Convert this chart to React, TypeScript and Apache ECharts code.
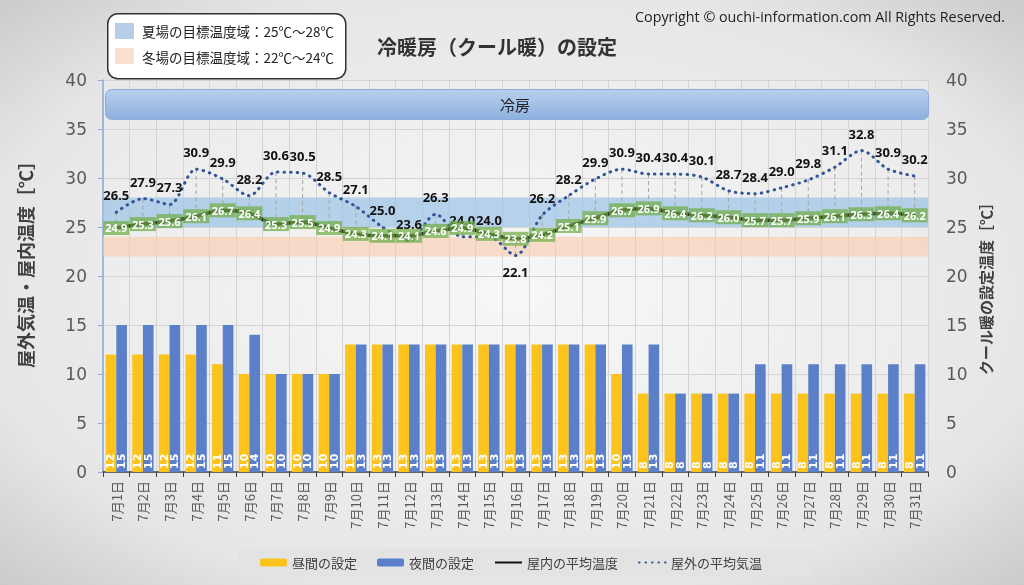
import React, { useEffect, useRef } from "react";
import * as echarts from "echarts";

const categories = [
  "7月1日", "7月2日", "7月3日", "7月4日", "7月5日", "7月6日", "7月7日", "7月8日",
  "7月9日", "7月10日", "7月11日", "7月12日", "7月13日", "7月14日", "7月15日", "7月16日",
  "7月17日", "7月18日", "7月19日", "7月20日", "7月21日", "7月22日", "7月23日", "7月24日",
  "7月25日", "7月26日", "7月27日", "7月28日", "7月29日", "7月30日", "7月31日",
];
const daySetting = [12, 12, 12, 12, 11, 10, 10, 10, 10, 13, 13, 13, 13, 13, 13, 13, 13, 13, 13, 10, 8, 8, 8, 8, 8, 8, 8, 8, 8, 8, 8];
const nightSetting = [15, 15, 15, 15, 15, 14, 10, 10, 10, 13, 13, 13, 13, 13, 13, 13, 13, 13, 13, 13, 13, 8, 8, 8, 11, 11, 11, 11, 11, 11, 11];
const indoorTemp = [24.9, 25.3, 25.6, 26.1, 26.7, 26.4, 25.3, 25.5, 24.9, 24.3, 24.1, 24.1, 24.6, 24.9, 24.3, 23.8, 24.2, 25.1, 25.9, 26.7, 26.9, 26.4, 26.2, 26.0, 25.7, 25.7, 25.9, 26.1, 26.3, 26.4, 26.2];
const outdoorTemp = [26.5, 27.9, 27.3, 30.9, 29.9, 28.2, 30.6, 30.5, 28.5, 27.1, 25.0, 23.6, 26.3, 24.0, 24.0, 22.1, 26.2, 28.2, 29.9, 30.9, 30.4, 30.4, 30.1, 28.7, 28.4, 29.0, 29.8, 31.1, 32.8, 30.9, 30.2];
const summerRange = [25, 28];
const winterRange = [22, 24];
const seriesNames = ["昼間の設定", "夜間の設定", "屋内の平均温度", "屋外の平均気温"];
const bandTexts = ["夏場の目標温度域：25℃～28℃", "冬場の目標温度域：22℃～24℃"];
const titleText = "冷暖房（クール暖）の設定";
const copyrightText = "Copyright © ouchi-information.com All Rights Reserved.";
const modeText = "冷房";
const leftAxisTitle = "屋外気温・屋内温度［℃］";
const rightAxisTitle = "クール暖の設定温度［℃］";

const JP = "'Noto Sans CJK JP', sans-serif";
const NUM = "'DejaVu Sans', 'Noto Sans CJK JP', sans-serif";
const LBL = "'Noto Sans', 'Noto Sans CJK JP', sans-serif";

export default function App() {
  const ref = useRef<HTMLDivElement>(null);
  useEffect(() => {
    if (!ref.current) return;
    const chart = echarts.init(ref.current, null, { renderer: "svg" });
    const option: any = {
      animation: false,
      backgroundColor: {
        type: "radial", x: 0.5, y: 0.5, r: 0.75,
        colorStops: [
          { offset: 0, color: "#f6f6f6" },
          { offset: 0.7, color: "#e6e6e6" },
          { offset: 1, color: "#c4c4c4" },
        ],
      },
      textStyle: { fontFamily: JP },
      title: {
        text: titleText,
        left: 372,
        top: 31,
        textStyle: { fontFamily: JP, fontSize: 20, fontWeight: "bold", color: "#333" },
      },
      legend: {
        data: [
          { name: seriesNames[0] },
          { name: seriesNames[1] },
          { name: seriesNames[2], itemStyle: { opacity: 0 } },
          { name: seriesNames[3], itemStyle: { opacity: 0 } },
        ],
        bottom: 9,
        left: 238,
        itemGap: 20,
        itemWidth: 27,
        itemHeight: 8,
        padding: [7, 52, 7, 22],
        backgroundColor: "#e3e3e3",
        textStyle: { fontFamily: JP, fontSize: 13, color: "#404040" },
      },
      grid: { left: 103, right: 96, top: 80, bottom: 113, show: true, borderWidth: 0, backgroundColor: "rgba(255,255,255,0.15)" },
      xAxis: {
        type: "category",
        data: categories,
        axisLine: { lineStyle: { color: "#404040", width: 1.5 } },
        axisTick: { show: true, length: 5, lineStyle: { color: "#404040" } },
        axisLabel: { rotate: 90, fontSize: 13, color: "#595959", margin: 9, fontFamily: JP },
        splitLine: { show: true, lineStyle: { color: "#d4d4d4" } },
      },
      yAxis: [
        {
          type: "value", min: 0, max: 40, interval: 5,
          axisLine: { show: true, lineStyle: { color: "#8faadc", width: 1.5 } },
          axisTick: { show: true, length: 5, lineStyle: { color: "#8faadc" } },
          axisLabel: { fontSize: 17, color: "#595959", margin: 16, fontFamily: NUM },
          splitLine: { show: true, lineStyle: { color: "#d4d4d4" } },
        },
        {
          type: "value", min: 0, max: 40, interval: 5,
          axisLine: { show: false },
          axisTick: { show: false },
          axisLabel: { fontSize: 17, color: "#595959", margin: 18, fontFamily: NUM },
          splitLine: { show: false },
        },
      ],
      graphic: [
        {
          type: "rect", left: 105, top: 89, z: 5,
          shape: { width: 823, height: 30, r: 6 },
          style: {
            fill: new echarts.graphic.LinearGradient(0, 0, 0, 1, [
              { offset: 0, color: "#b9d0ec" },
              { offset: 1, color: "#8db0df" },
            ]),
            stroke: "#8faadc", lineWidth: 1,
          },
        },
        {
          type: "text", x: 515, y: 104, z: 6,
          style: { text: modeText, fontSize: 15, fill: "#222", align: "center", verticalAlign: "middle", fontFamily: JP },
        },
        {
          type: "rect", left: 107, top: 13, z: 10,
          shape: { width: 238, height: 65, r: 10 },
          style: { fill: "#ffffff", stroke: "#333333", lineWidth: 1.5 },
        },
        {
          type: "rect", left: 115, top: 23, z: 11,
          shape: { width: 19, height: 16 },
          style: { fill: "#b8cee8" },
        },
        {
          type: "text", x: 142, y: 31, z: 11,
          style: { text: bandTexts[0], fontSize: 13.5, fill: "#222", verticalAlign: "middle", fontFamily: JP },
        },
        {
          type: "rect", left: 115, top: 48, z: 11,
          shape: { width: 19, height: 16 },
          style: { fill: "#f9dfcf" },
        },
        {
          type: "text", x: 142, y: 57, z: 11,
          style: { text: bandTexts[1], fontSize: 13.5, fill: "#222", verticalAlign: "middle", fontFamily: JP },
        },
        {
          type: "text", x: 1005, y: 16, z: 11,
          style: { text: copyrightText, fontSize: 14.3, fill: "#222", align: "right", verticalAlign: "middle", fontFamily: "'Open Sans', 'DejaVu Sans', sans-serif" },
        },
        {
          type: "text", x: 25, y: 260, rotation: Math.PI / 2, z: 11,
          style: { text: leftAxisTitle, fontSize: 18, fontWeight: "bold", fill: "#404040", align: "center", verticalAlign: "middle", fontFamily: JP },
        },
        {
          type: "text", x: 985, y: 285, rotation: Math.PI / 2, z: 11,
          style: { text: rightAxisTitle, fontSize: 15, fontWeight: "bold", fill: "#404040", align: "center", verticalAlign: "middle", fontFamily: JP },
        },
      ],
      series: [
        {
          name: seriesNames[0],
          type: "bar",
          yAxisIndex: 1,
          data: daySetting,
          barGap: "0%",
          barCategoryGap: "20%",
          itemStyle: { color: "#fbc31c" },
          label: {
            show: true, position: "insideBottom", rotate: 90, align: "left", verticalAlign: "middle",
            distance: 3, color: "#fff", fontSize: 11, fontWeight: "bold", fontFamily: NUM,
          },
        },
        {
          name: seriesNames[1],
          type: "bar",
          yAxisIndex: 1,
          data: nightSetting,
          itemStyle: { color: "#5b80c9" },
          label: {
            show: true, position: "insideBottom", rotate: 90, align: "left", verticalAlign: "middle",
            distance: 3, color: "#fff", fontSize: 11, fontWeight: "bold", fontFamily: NUM,
          },
        },
        {
          type: "custom",
          yAxisIndex: 0,
          silent: true,
          z: 3,
          data: outdoorTemp.map((v, i) => [i, v, indoorTemp[i]]),
          encode: { x: 0, y: [1, 2] },
          renderItem: (params: any, api: any) => {
            const a = api.coord([api.value(0), api.value(1)]);
            const b = api.coord([api.value(0), api.value(2)]);
            return {
              type: "line",
              shape: { x1: a[0], y1: a[1], x2: b[0], y2: b[1] },
              style: { stroke: "#a6a6a6", lineWidth: 1, lineDash: [4, 3] },
            };
          },
        },
        {
          name: seriesNames[2],
          type: "line",
          yAxisIndex: 0,
          data: indoorTemp,
          smooth: 0.3,
          symbol: "circle",
          symbolSize: 1,
          itemStyle: { color: "#111" },
          lineStyle: { color: "#111", width: 3.5 },
          z: 5,
          label: {
            show: true, position: "inside", formatter: (p: any) => p.value.toFixed(1),
            color: "#fff", fontSize: 11, fontWeight: "bold", fontFamily: LBL,
            backgroundColor: "rgba(112,173,71,0.72)", padding: [2, 2, 1, 2],
          },
          markArea: {
            silent: true,
            data: [
              [{ yAxis: summerRange[0], itemStyle: { color: "rgba(155,194,230,0.7)" } }, { yAxis: summerRange[1] }],
              [{ yAxis: winterRange[0], itemStyle: { color: "rgba(248,203,173,0.6)" } }, { yAxis: winterRange[1] }],
            ],
          },
        },
        {
          name: seriesNames[3],
          type: "line",
          yAxisIndex: 0,
          data: outdoorTemp.map((v, i) => (i === 15 ? { value: v, label: { position: "bottom" } } : v)),
          smooth: 0.3,
          symbol: "circle",
          symbolSize: 1,
          itemStyle: { color: "#2f5597" },
          lineStyle: { color: "#2f5597", width: 3, type: [0.5, 6], cap: "round" },
          z: 4,
          label: {
            show: true, position: "top", distance: 10, formatter: (p: any) => p.value.toFixed(1),
            color: "#111", fontSize: 13, fontWeight: "bold", fontFamily: LBL,
          },
        },
      ],
    };
    chart.setOption(option);
    return () => chart.dispose();
  }, []);
  return (
    <div
      ref={ref}
      style={{ position: "fixed", left: 0, top: 0, width: 1024, height: 585 }}
    />
  );
}
